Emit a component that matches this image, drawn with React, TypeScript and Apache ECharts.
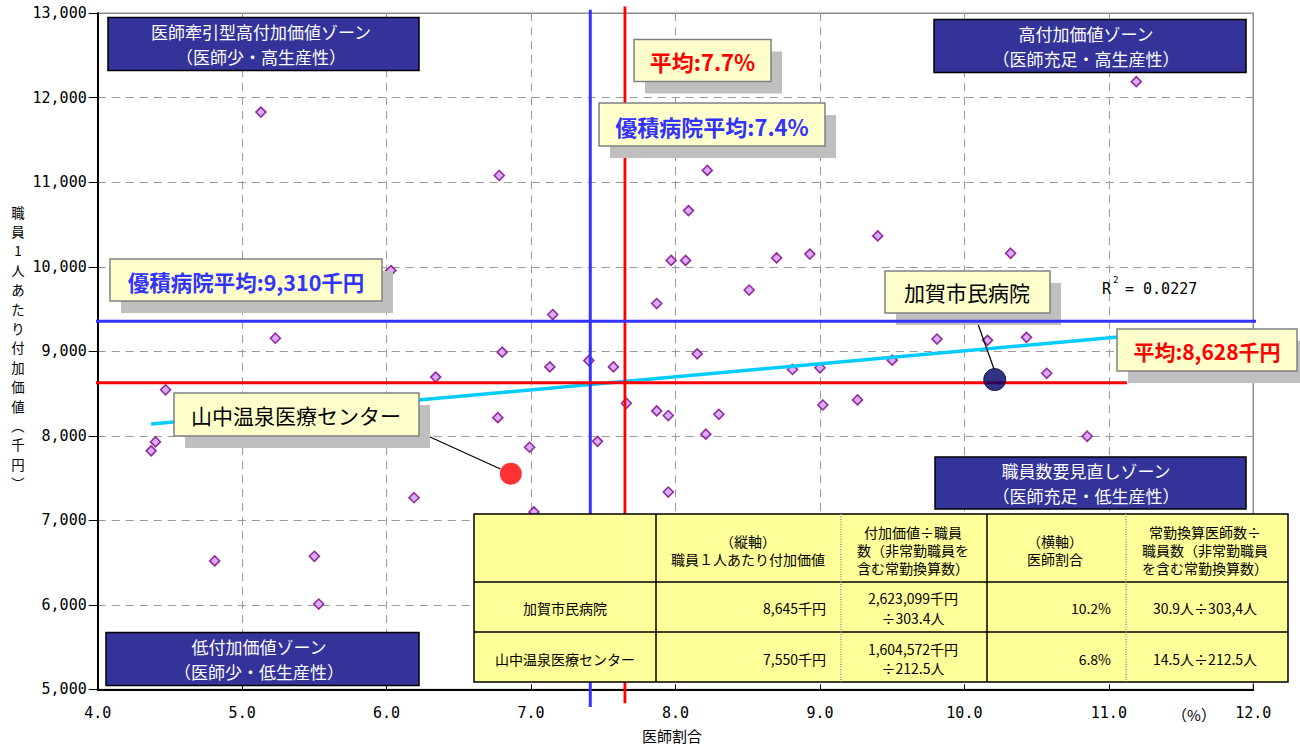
import React, { useEffect, useRef } from "react";
import * as echarts from "echarts";

// ---------------- data ----------------
// [医師割合(%), 職員1人あたり付加価値(千円)]
const hospitalPoints: [number, number][] = [
  [5.13, 11830], [11.19, 12190], [6.78, 11080], [8.22, 11140], [8.09, 10665],
  [9.40, 10365], [10.32, 10160], [8.93, 10150], [8.70, 10105], [7.97, 10075],
  [8.07, 10075], [6.03, 9955], [8.51, 9725], [7.87, 9565], [7.15, 9435],
  [5.23, 9155], [9.81, 9145], [10.43, 9165], [10.16, 9130], [6.80, 8990],
  [8.15, 8970], [7.40, 8890], [7.57, 8815], [7.13, 8815], [8.81, 8785],
  [9.00, 8805], [9.50, 8895], [6.34, 8695], [10.57, 8740], [4.47, 8545],
  [7.66, 8385], [7.87, 8295], [7.95, 8240], [8.30, 8255], [9.02, 8365],
  [9.26, 8425], [6.77, 8215], [8.21, 8020], [10.85, 7995], [4.40, 7928],
  [4.37, 7822], [7.46, 7935], [6.99, 7865], [7.95, 7335], [6.19, 7268],
  [7.02, 7100], [4.81, 6520], [5.50, 6575], [5.53, 6010],
];
const kagaPoint: [number, number] = [10.21, 8665];
const yamanakaPoint: [number, number] = [6.86, 7551];
const trendEnds: [number, number][] = [[4.37, 8140], [11.2, 9190]];
const avgRatioLine: [number, number][] = [[7.65, 4837], [7.65, 13080]];
const goodRatioLine: [number, number][] = [[7.41, 4793], [7.41, 13041]];
const avgValueLine: [number, number][] = [[3.93, 8628], [11.125, 8628]];
const goodValueLine: [number, number][] = [[3.94, 9356], [12.33, 9356]];
const xMin = 4, xMax = 12, xStep = 1;
const yMin = 5000, yMax = 13000, yStep = 1000;
const rSquaredText = "0.0227";

const zoneTexts = [
  "医師牽引型高付加価値ゾーン\n（医師少・高生産性）",
  "高付加価値ゾーン\n（医師充足・高生産性）",
  "職員数要見直しゾーン\n（医師充足・低生産性）",
  "低付加価値ゾーン\n（医師少・低生産性）",
];
const calloutTexts = [
  "平均:7.7%",
  "優積病院平均:7.4%",
  "優積病院平均:9,310千円",
  "平均:8,628千円",
  "加賀市民病院",
  "山中温泉医療センター",
];
const tableHeader = [
  "",
  "（縦軸）\n職員１人あたり付加価値",
  "付加価値÷職員\n数（非常勤職員を\n含む常勤換算数）",
  "（横軸）\n医師割合",
  "常勤換算医師数÷\n職員数（非常勤職員\nを含む常勤換算数）",
];
const tableRows = [
  ["加賀市民病院", "8,645千円", "2,623,099千円\n÷303.4人", "10.2%", "30.9人÷303,4人"],
  ["山中温泉医療センター", "7,550千円", "1,604,572千円\n÷212.5人", "6.8%", "14.5人÷212.5人"],
];
const yAxisTitle = ["職", "員", "1", "人", "あ", "た", "り", "付", "加", "価", "値", "︵", "千", "円", "︶"];
const xAxisTitle = "医師割合";
const xUnit = "（%）";

// ---------------- styles / layout ----------------
const FONT_JP = "'Noto Sans CJK JP', 'Noto Sans', sans-serif";
const FONT_MONO = "'DejaVu Sans Mono', 'Liberation Mono', monospace";

function txt(x: number, y: number, text: string, o: any = {}) {
  const align = o.align || "center";
  return {
    type: "text",
    z: o.z ?? 60,
    x,
    y,
    silent: true,
    style: {
      text,
      fill: o.fill || "#000",
      fontSize: o.fontSize || 14,
      fontWeight: o.fontWeight || "normal",
      fontFamily: o.fontFamily || FONT_JP,
      lineHeight: o.lineHeight,
      align,
      verticalAlign: "middle",
      textAlign: align,
      textVerticalAlign: "middle",
    },
  };
}
function rect(x: number, y: number, w: number, h: number, style: any, z = 50) {
  return { type: "rect", z, silent: true, shape: { x, y, width: w, height: h }, style };
}
function seg(x1: number, y1: number, x2: number, y2: number, style: any, z = 55) {
  return { type: "line", z, silent: true, shape: { x1, y1, x2, y2 }, style };
}

function callout(box: number[], text: string, fill: string, fontSize: number, bold: boolean, center?: number[]) {
  const [x, y, w, h] = box;
  return [
    rect(x + 11, y + 12, w, h, { fill: "#BFBFBF" }, 50),
    rect(x, y, w, h, { fill: "#FFFFCC", stroke: "#808080", lineWidth: 1.5 }, 51),
    txt(center ? center[0] : x + w / 2, center ? center[1] : y + h / 2, text, {
      fill, fontSize, fontWeight: bold ? "bold" : "normal", z: 52,
    }),
  ];
}

function zone(box: number[], text: string, cx: number) {
  const [x, y, w, h] = box;
  return [
    rect(x, y, w, h, { fill: "#333399", stroke: "#000", lineWidth: 1.5 }, 50),
    txt(cx, y + h / 2, text, { fill: "#FFFFFF", fontSize: 17, lineHeight: 24.5, z: 52 }),
  ];
}

function buildTable() {
  const cols = [474, 656, 841, 987, 1126, 1288];
  const rows = [514, 582, 632, 682];
  const els: any[] = [];
  els.push(rect(cols[0], rows[0], cols[5] - cols[0], rows[3] - rows[0], { fill: "#FFFF99", stroke: "#000", lineWidth: 1.5 }, 70));
  els.push(seg(cols[0], rows[1], cols[5], rows[1], { stroke: "#000", lineWidth: 1.5 }, 71));
  els.push(seg(cols[0], rows[2], cols[5], rows[2], { stroke: "#000", lineWidth: 1.5 }, 71));
  els.push(seg(cols[1], rows[0], cols[1], rows[3], { stroke: "#000", lineWidth: 1.5 }, 71));
  els.push(seg(cols[3], rows[0], cols[3], rows[3], { stroke: "#000", lineWidth: 1.5 }, 71));
  els.push(seg(cols[2], rows[0], cols[2], rows[3], { stroke: "#999", lineWidth: 1.5, lineDash: [1, 1.5] }, 71));
  els.push(seg(cols[4], rows[0], cols[4], rows[3], { stroke: "#999", lineWidth: 1.5, lineDash: [1, 1.5] }, 71));
  const T = { z: 72, fontSize: 14 };
  // header
  els.push(txt(748, 550, tableHeader[1], { ...T, lineHeight: 18.3 }));
  els.push(txt(913, 550, tableHeader[2], { ...T, lineHeight: 18.3 }));
  els.push(txt(1055, 550, tableHeader[3], { ...T, lineHeight: 18.3 }));
  els.push(txt(1205, 550, tableHeader[4], { ...T, lineHeight: 18.3 }));
  const rowY = [608, 658.5];
  tableRows.forEach((r, i) => {
    const y = rowY[i];
    els.push(txt(565, y, r[0], T));
    els.push(txt(826, y, r[1], { ...T, align: "right" }));
    els.push(txt(913, y, r[2], { ...T, lineHeight: 19.5 }));
    els.push(txt(1111, y, r[3], { ...T, align: "right" }));
    els.push(txt(1205, y, r[4], T));
  });
  return els;
}

function buildYTitle() {
  const top = 211.5;
  const step = 19.4;
  return yAxisTitle.map((ch, i) => txt(18, top + i * step, ch, { fontSize: 13.4 }));
}

function buildOption(): any {
  const graphics: any[] = [
    ...zone([108, 17.5, 311, 53], zoneTexts[0], 261),
    ...zone([934, 19.5, 312, 53], zoneTexts[1], 1086),
    ...zone([935, 457, 311, 52], zoneTexts[2], 1086),
    ...zone([106, 632.5, 313, 53], zoneTexts[3], 259),
    seg(974, 313, 994, 369, { stroke: "#000", lineWidth: 1.2 }, 49),
    seg(419, 432, 500.5, 469, { stroke: "#000", lineWidth: 1.2 }, 49),
    ...callout([634, 39.5, 137, 42], calloutTexts[0], "#FF0000", 22, true),
    ...callout([599, 103, 226, 43], calloutTexts[1], "#3333FF", 22, true, [712, 125.5]),
    ...callout([110, 259, 272, 42], calloutTexts[2], "#3333FF", 21.5, true, [246, 281]),
    ...callout([1117, 329, 180, 42], calloutTexts[3], "#FF0000", 21, true, [1207, 351]),
    ...callout([885, 271, 165, 42], calloutTexts[4], "#000000", 21, false, [967, 292]),
    ...callout([174, 393, 245, 43], calloutTexts[5], "#000000", 21, false, [296, 415]),
    txt(1102, 289, "R", { align: "left", fontFamily: FONT_MONO, fontSize: 15 }),
    txt(1113, 280, "2", { align: "left", fontFamily: FONT_MONO, fontSize: 9 }),
    txt(1125, 289, "= " + rSquaredText, { align: "left", fontFamily: FONT_MONO, fontSize: 15 }),
    ...buildTable(),
    ...buildYTitle(),
    txt(672, 735.5, xAxisTitle, { fontSize: 15 }),
    txt(1194, 714, xUnit, { fontSize: 15 }),
  ];

  const lineSeries = (name: string, data: [number, number][], color: string, width: number, z: number) => ({
    type: "line",
    name,
    data,
    symbol: "none",
    showSymbol: false,
    clip: false,
    silent: true,
    z,
    lineStyle: { color, width, cap: "butt" },
    itemStyle: { color },
  });

  return {
    animation: false,
    backgroundColor: "#FFFFFF",
    grid: {
      left: 97.7,
      right: 46.7,
      top: 13.2,
      bottom: 57.6,
      show: true,
      borderColor: "#8C8C8C",
      borderWidth: 1.5,
      containLabel: false,
      outerBoundsMode: "none",
    },
    xAxis: {
      type: "value",
      min: xMin,
      max: xMax,
      interval: xStep,
      axisLine: { show: true, onZero: false, lineStyle: { color: "#000", width: 2 } },
      axisTick: { show: true, inside: true, length: 5, lineStyle: { color: "#000", width: 1 } },
      axisLabel: {
        margin: 16,
        color: "#000",
        fontSize: 15,
        fontFamily: FONT_MONO,
        formatter: (v: number) => v.toFixed(1),
      },
      splitLine: {
        show: true,
        showMinLine: false,
        showMaxLine: false,
        lineStyle: { color: "#9A9A9A", width: 1, type: [8, 6] },
      },
    },
    yAxis: {
      type: "value",
      min: yMin,
      max: yMax,
      interval: yStep,
      axisLine: { show: true, onZero: false, lineStyle: { color: "#000", width: 2 } },
      axisTick: { show: true, inside: false, length: 9, lineStyle: { color: "#000", width: 1 } },
      axisLabel: {
        margin: 11,
        color: "#000",
        fontSize: 15,
        fontFamily: FONT_MONO,
        formatter: (v: number) => v.toLocaleString("en-US"),
      },
      splitLine: {
        show: true,
        showMinLine: false,
        showMaxLine: false,
        lineStyle: { color: "#9A9A9A", width: 1, type: [8, 6] },
      },
    },
    series: [
      {
        type: "scatter",
        name: "病院",
        data: hospitalPoints,
        symbol: "diamond",
        symbolSize: 10,
        z: 2,
        itemStyle: { color: "#CC99FF", borderColor: "#800080", borderWidth: 1.6 },
      },
      lineSeries("近似直線", trendEnds, "#00CCFF", 3.5, 3),
      lineSeries("平均(医師割合)", avgRatioLine, "#FF0000", 2.8, 4),
      lineSeries("優積病院平均(医師割合)", goodRatioLine, "#3333FF", 3, 4),
      lineSeries("平均(付加価値)", avgValueLine, "#FF0000", 3, 5),
      {
        type: "scatter",
        name: "加賀市民病院",
        data: [kagaPoint],
        symbol: "circle",
        symbolSize: 22,
        z: 6,
        itemStyle: { color: "#000066", borderColor: "#000033", borderWidth: 1 },
      },
      {
        type: "scatter",
        name: "山中温泉医療センター",
        data: [yamanakaPoint],
        symbol: "circle",
        symbolSize: 22,
        z: 6,
        itemStyle: { color: "#FF0000" },
      },
      lineSeries("優積病院平均(付加価値)", goodValueLine, "#3333FF", 3, 100),
    ],
    graphic: { elements: graphics },
  };
}

export default function App() {
  const ref = useRef<HTMLDivElement>(null);
  useEffect(() => {
    document.body.style.margin = "0";
    const chart = echarts.init(ref.current!, null, { renderer: "svg" });
    chart.setOption(buildOption());
    return () => chart.dispose();
  }, []);
  return <div ref={ref} style={{ width: 1300, height: 747 }} />;
}
